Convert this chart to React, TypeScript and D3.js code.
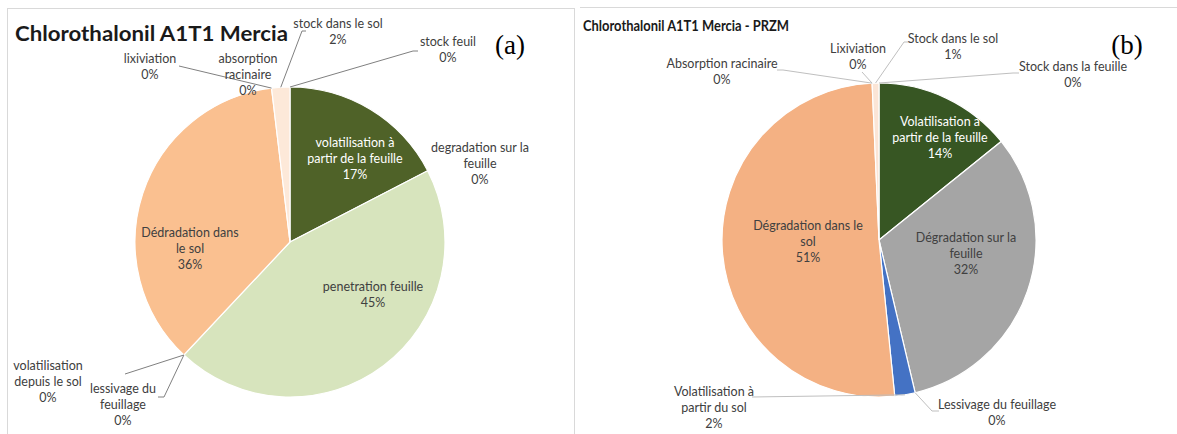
import React from 'react';
import * as d3 from 'd3';

// left chart (a)
const leftTitle = 'Chlorothalonil A1T1 Mercia';
const leftCategories = [
  'volatilisation à\npartir de la feuille',
  'degradation sur la\nfeuille',
  'penetration feuille',
  'lessivage du\nfeuillage',
  'volatilisation\ndepuis le sol',
  'Dédradation dans\nle sol',
  'lixiviation',
  'absorption\nracinaire',
  'stock dans le sol',
  'stock feuil',
];
const leftValues = [17.4, 0, 44.6, 0, 0, 36.1, 0, 0, 1.9, 0];
const leftColors = ['#4f6228', '#9bbb59', '#d7e4bd', '#8064a2', '#4bacc6', '#fac090', '#f79646', '#c0504d', '#fde9d9', '#1f497d'];

// right chart (b)
const rightTitle = 'Chlorothalonil A1T1 Mercia - PRZM';
const rightCategories = [
  'Volatilisation à\npartir de la feuille',
  'Dégradation sur la\nfeuille',
  'Lessivage du feuillage',
  'Volatilisation à\npartir du sol',
  'Dégradation dans le\nsol',
  'Absorption racinaire',
  'Lixiviation',
  'Stock dans le sol',
  'Stock dans la feuille',
];
const rightValues = [14.2, 32.1, 0, 2.1, 50.9, 0, 0, 0.7, 0];
const rightColors = ['#375623', '#a5a5a5', '#ffc000', '#4472c4', '#f4b183', '#70ad47', '#255e91', '#fbe5d6', '#9e480e'];

type Layout = {
  cx: number;
  cy: number;
  r: number;
  labels: { x: number; y: number; fill: string; lead?: [number, number][] }[];
  font: number;
  lineH: number;
  leadColor: string;
};

const leftLayout: Layout = {
  cx: 290, cy: 242, r: 155, font: 12.5, lineH: 16, leadColor: '#808080',
  labels: [
    { x: 355, y: 147, fill: '#ffffff' },
    { x: 480, y: 152, fill: '#404040' },
    { x: 373, y: 291, fill: '#404040' },
    { x: 123, y: 393, fill: '#404040', lead: [[158, 397], [164, 397]] },
    { x: 48, y: 370, fill: '#404040', lead: [[125, 374]] },
    { x: 190, y: 237, fill: '#404040' },
    { x: 150, y: 63, fill: '#404040', lead: [[179, 66]] },
    { x: 248, y: 63, fill: '#404040' },
    { x: 338, y: 28, fill: '#404040', lead: [[306, 31], [302, 31]] },
    { x: 448, y: 46, fill: '#404040', lead: [[418, 51], [413, 51]] },
  ],
};

const rightLayout: Layout = {
  cx: 879, cy: 240, r: 157, font: 12.5, lineH: 16, leadColor: '#bfbfbf',
  labels: [
    { x: 940, y: 126, fill: '#ffffff' },
    { x: 966, y: 242, fill: '#404040' },
    { x: 997, y: 409, fill: '#404040', lead: [[939, 411], [932, 411]] },
    { x: 714, y: 396, fill: '#404040', lead: [[752, 397]] },
    { x: 808, y: 230, fill: '#404040' },
    { x: 722, y: 68, fill: '#404040', lead: [[777, 70], [783, 70]] },
    { x: 858, y: 53, fill: '#404040', lead: [[862, 72]] },
    { x: 953, y: 43, fill: '#404040', lead: [[909, 42], [904, 42]] },
    { x: 1073, y: 71, fill: '#404040', lead: [[1019, 73], [1013, 73]] },
  ],
};

const font = 'Lato, "Open Sans", sans-serif';

function Pie({ categories, values, colors, layout }: {
  categories: string[]; values: number[]; colors: string[]; layout: Layout;
}) {
  const total = d3.sum(values);
  const arcs = d3.pie<number>().sort(null).value(v => v)(values);
  const arc = d3.arc<d3.PieArcDatum<number>>().innerRadius(0).outerRadius(layout.r);
  const edge = d3.arc<d3.PieArcDatum<number>>().innerRadius(layout.r).outerRadius(layout.r);
  const pct = d3.format('.0%');
  return (
    <g>
      <g transform={`translate(${layout.cx},${layout.cy})`}>
        {arcs.map((a, i) =>
          a.value > 0 ? (
            <path key={i} d={arc(a) || ''} fill={colors[i]} stroke="#ffffff" strokeWidth={1.2} />
          ) : null
        )}
      </g>
      {arcs.map((a, i) => {
        const lab = layout.labels[i];
        if (!lab.lead) return null;
        const [ex, ey] = edge.centroid(a);
        const pts = [...lab.lead, [ex + layout.cx, ey + layout.cy]];
        return (
          <path key={'l' + i} d={d3.line()(pts as [number, number][]) || ''}
            fill="none" stroke={layout.leadColor} strokeWidth={1} />
        );
      })}
      {arcs.map((a, i) => {
        const lab = layout.labels[i];
        const lines = [...categories[i].split('\n'), pct(a.value / total)];
        return (
          <text key={'t' + i} x={lab.x} y={lab.y} textAnchor="middle" fill={lab.fill}
            fontFamily={font} fontSize={layout.font}>
            {lines.map((t, j) => (
              <tspan key={j} x={lab.x} dy={j === 0 ? 0 : layout.lineH}>{t}</tspan>
            ))}
          </text>
        );
      })}
    </g>
  );
}

export default function App() {
  return (
    <svg width={1177} height={434} style={{ position: 'absolute', left: 0, top: 0, background: '#fff' }}>
      <rect x={7.5} y={8.5} width={567} height={440} fill="none" stroke="#d9d9d9" strokeWidth={1} />
      <line x1={580} x2={1177} y1={7.5} y2={7.5} stroke="#d9d9d9" strokeWidth={1} />

      <text x={15} y={41} fontFamily={font} fontWeight="bold" fontSize={21} fill="#1a1a1a"
        textLength={273} lengthAdjust="spacingAndGlyphs">{leftTitle}</text>
      <text x={583} y={31} fontFamily={font} fontWeight="bold" fontSize={15.5} fill="#1a1a1a"
        textLength={206} lengthAdjust="spacingAndGlyphs">{rightTitle}</text>

      <text x={510} y={54} textAnchor="middle" fontFamily='"Liberation Serif", "DejaVu Serif", serif' fontSize={27} fill="#000">(a)</text>
      <text x={1127} y={54} textAnchor="middle" fontFamily='"Liberation Serif", "DejaVu Serif", serif' fontSize={27} fill="#000">(b)</text>

      <Pie categories={leftCategories} values={leftValues} colors={leftColors} layout={leftLayout} />
      <Pie categories={rightCategories} values={rightValues} colors={rightColors} layout={rightLayout} />
    </svg>
  );
}
